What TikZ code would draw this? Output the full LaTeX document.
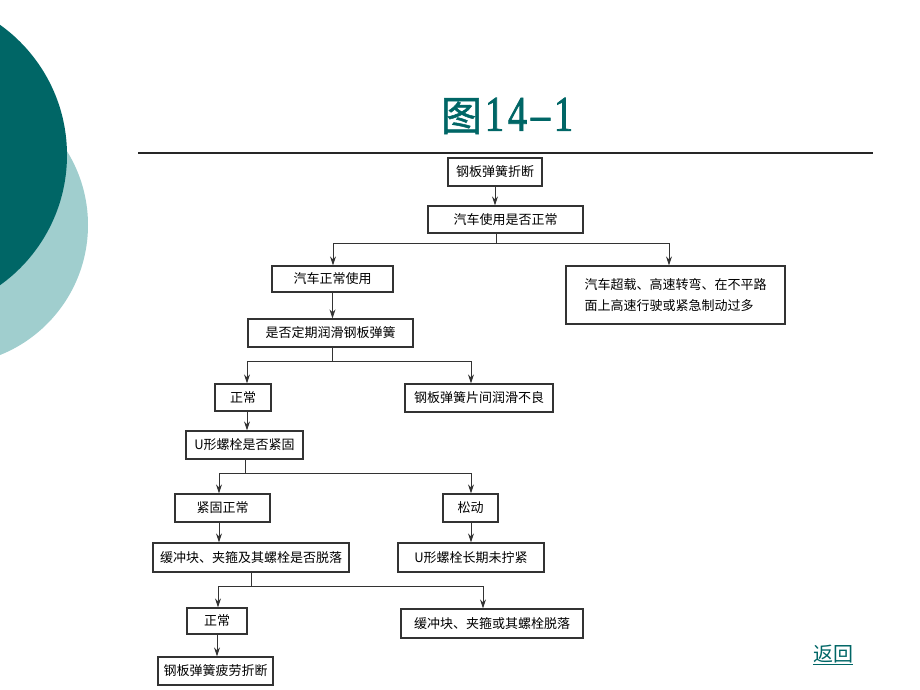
\documentclass[tikz,border=0pt]{standalone}
\usepackage{fontspec}
\usepackage{tikz}
\usetikzlibrary{arrows.meta}
\setmainfont{Liberation Serif}
\newfontfamily\cjk{Noto Sans CJK SC}
\newfontfamily\titlecjk[FakeBold=1.2]{Noto Sans CJK SC}
\newfontfamily\titlefont[FakeStretch=0.76,FakeBold=1.5,LetterSpace=8]{Liberation Serif}
\definecolor{deepteal}{RGB}{0,102,102}
\definecolor{paleteal}{RGB}{160,206,206}
\definecolor{boxline}{RGB}{51,51,51}

\begin{document}
\begin{tikzpicture}[x=1pt,y=-1pt,
  box/.style={draw=boxline,line width=1.2pt,inner sep=0pt,align=center,
    font=\cjk\fontsize{13}{21}\selectfont},
  link/.style={draw=black!80,line width=0.8pt},
  arr/.style={link,-{Stealth[length=9pt,width=6pt]}}]
\useasboundingbox (0,0) rectangle (920,690);

% background circles
\begin{scope}
\clip (0,0) rectangle (920,690);
\fill[paleteal] (-52,225) circle[radius=140];
\fill[deepteal] (-93,155) circle[radius=160];
\end{scope}

\node[text=deepteal,inner sep=0pt] (title) at (507,116) {{\titlecjk\fontsize{41}{41}\selectfont 图}\hspace{3pt}{\titlefont\fontsize{50}{50}\selectfont 14–1}};
\draw[line width=1.5pt,black!85] (138,153) -- (873,153);

\node[box,minimum width=94,minimum height=28] (fracture) at (495,172) {钢板弹簧折断};
\node[box,minimum width=155,minimum height=27] (usage) at (505.5,219.5) {汽车使用是否正常};
\node[box,minimum width=121,minimum height=26] (normaluse) at (332.5,279) {汽车正常使用};
\node[box,minimum width=219,minimum height=58,align=left] (overload) at (675.5,295) {汽车超载、高速转弯、在不平路\\面上高速行驶或紧急制动过多};
\node[box,minimum width=165,minimum height=28] (lubeq) at (330.5,333) {是否定期润滑钢板弹簧};
\node[box,minimum width=56,minimum height=27] (normalA) at (243,397.5) {正常};
\node[box,minimum width=148,minimum height=28] (poorlube) at (479,398) {钢板弹簧片间润滑不良};
\node[box,minimum width=117,minimum height=28] (boltq) at (244.5,445) {U形螺栓是否紧固};
\node[box,minimum width=95,minimum height=28] (tight) at (222.5,508) {紧固正常};
\node[box,minimum width=55,minimum height=28] (loose) at (470.5,508) {松动};
\node[box,minimum width=196,minimum height=29] (bufferq) at (251,557.5) {缓冲块、夹箍及其螺栓是否脱落};
\node[box,minimum width=146,minimum height=29] (untight) at (471,557.5) {U形螺栓长期未拧紧};
\node[box,minimum width=60,minimum height=26] (normalB) at (217,621) {正常};
\node[box,minimum width=182,minimum height=29] (bufferoff) at (492,623.5) {缓冲块、夹箍或其螺栓脱落};
\node[box,minimum width=115,minimum height=28] (fatigue) at (215.5,671) {钢板弹簧疲劳折断};

\node[text=deepteal,font=\cjk\fontsize{20}{20}\selectfont] (back) at (833,655) {\underline{返回}};

\coordinate (j1) at (496,243);
\coordinate (j1l) at (333,243);
\coordinate (j1r) at (669,243);
\coordinate (j2) at (332,361);
\coordinate (j2l) at (247,361);
\coordinate (j2r) at (471,361);
\coordinate (j3) at (245,473);
\coordinate (j3l) at (219,473);
\coordinate (j3r) at (471,473);
\coordinate (j4) at (251,586);
\coordinate (j4l) at (218,586);
\coordinate (j4r) at (483,586);

\draw[arr] (fracture.south) -- (fracture.south |- usage.north);
\draw[link] (usage.south -| j1) -- (j1);
\draw[link] (j1l) -- (j1r);
\draw[arr] (j1l) -- (j1l |- normaluse.north);
\draw[arr] (j1r) -- (j1r |- overload.north);
\draw[arr] (normaluse.south) -- (normaluse.south |- lubeq.north);

\draw[link] (lubeq.south -| j2) -- (j2);
\draw[link] (j2l) -- (j2r);
\draw[arr] (j2l) -- (j2l |- normalA.north);
\draw[arr] (j2r) -- (j2r |- poorlube.north);
\draw[arr] (j2l |- normalA.south) -- (j2l |- boltq.north);

\draw[link] (boltq.south -| j3) -- (j3);
\draw[link] (j3l) -- (j3r);
\draw[arr] (j3l) -- (j3l |- tight.north);
\draw[arr] (j3r) -- (j3r |- loose.north);
\draw[arr] (j3l |- tight.south) -- (j3l |- bufferq.north);
\draw[arr] (j3r |- loose.south) -- (j3r |- untight.north);

\draw[link] (bufferq.south -| j4) -- (j4);
\draw[link] (j4l) -- (j4r);
\draw[arr] (j4l) -- (j4l |- normalB.north);
\draw[arr] (j4r) -- (j4r |- bufferoff.north);
\draw[arr] (normalB.south) -- (normalB.south |- fatigue.north);
\end{tikzpicture}
\end{document}
